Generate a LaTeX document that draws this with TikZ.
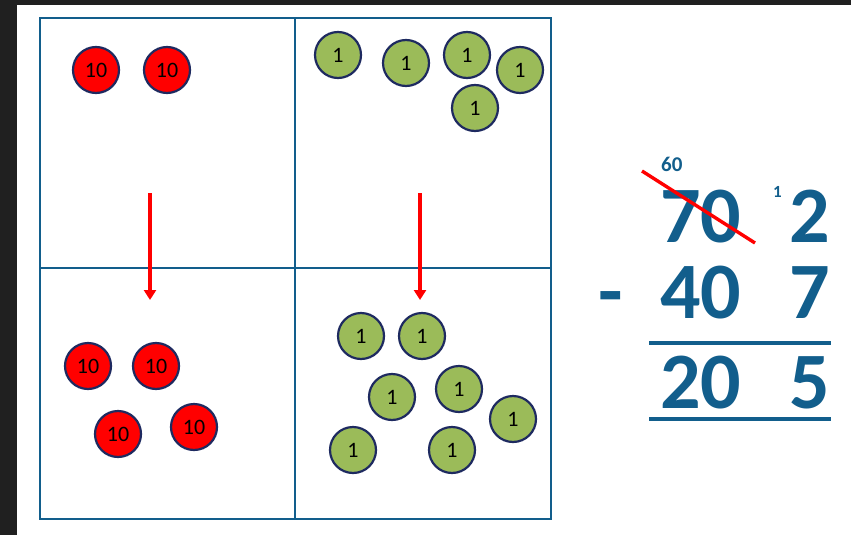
\documentclass[tikz,border=0pt]{standalone}
\usepackage{fontspec}
\setmainfont{Carlito}
\usetikzlibrary{arrows.meta}
\definecolor{gridblue}{RGB}{18,94,140}
\definecolor{coinred}{RGB}{255,0,0}
\definecolor{coingreen}{RGB}{155,187,89}
\definecolor{rim}{RGB}{30,42,96}
\definecolor{frame}{RGB}{32,32,32}

\begin{document}
\begin{tikzpicture}[x=1pt,y=-1pt]
\tikzset{ten/.style={circle,draw=rim,line width=2.2pt,fill=coinred,minimum size=46pt,inner sep=0pt,font=\fontsize{22}{22}\selectfont},
  one/.style={ten,fill=coingreen},
  big/.style={anchor=base west,inner sep=0pt,text=gridblue,font=\fontsize{80}{80}\selectfont\bfseries},
  small/.style={anchor=base west,inner sep=0pt,text=gridblue,font=\fontsize{21}{21}\selectfont\bfseries}}
\useasboundingbox (0,0) rectangle (851,535);
\fill[frame] (0,0) rectangle (17,535);
\fill[frame] (0,0) rectangle (851,5);
% place-value grid
\draw[gridblue,line width=2.6pt] (40,18) rectangle (551,519);
\draw[gridblue,line width=2.6pt] (295,18) -- (295,519);
\draw[gridblue,line width=2.6pt] (40,268) -- (551,268);
% tens before
\node[ten] (ta) at (96,70) {10};
\node[ten] (tb) at (167,70) {10};
% ones before
\node[one] (oa) at (338,55) {1};
\node[one] (ob) at (406,63) {1};
\node[one] (oc) at (467,55) {1};
\node[one] (od) at (520,70) {1};
\node[one] (oe) at (475,108) {1};
% tens after
\node[ten] (tc) at (88,366) {10};
\node[ten] (td) at (156,366) {10};
\node[ten] (te) at (118,434) {10};
\node[ten] (tf) at (194,427) {10};
% ones after
\node[one] (of) at (361,336) {1};
\node[one] (og) at (422,336) {1};
\node[one] (oh) at (392,397) {1};
\node[one] (oi) at (459,389) {1};
\node[one] (oj) at (513,419) {1};
\node[one] (ok) at (353,450) {1};
\node[one] (ol) at (452,450) {1};
% exchange arrows
\coordinate (tenfrom) at (150,193);
\coordinate (tento) at (150,300);
\coordinate (onefrom) at (420,193);
\coordinate (oneto) at (420,300);
\draw[coinred,line width=3.2pt,-{Triangle[length=10pt,width=12pt]}] (tenfrom) -- (tento);
\draw[coinred,line width=3.2pt,-{Triangle[length=10pt,width=12pt]}] (onefrom) -- (oneto);
% column subtraction
\node[big] (tens1) at (660,242) {70};
\node[big] (ones1) at (789,242) {2};
\node[big] (tens2) at (660,318) {40};
\node[big] (ones2) at (789,318) {7};
\node[big] (tens3) at (660,408) {20};
\node[big] (ones3) at (789,408) {5};
\node[big] (minus) at (598,318) {-};
\node[small] (newtens) at (661,171) {60};
\node[small,font=\fontsize{17}{17}\selectfont\bfseries] (carry) at (773,197) {1};
\draw[gridblue,line width=3.2pt] (649,343) -- (831,343);
\draw[gridblue,line width=3.2pt] (649,419) -- (831,419);
\draw[coinred,line width=3.4pt] (642,171) -- (755,243);
\end{tikzpicture}
\end{document}
